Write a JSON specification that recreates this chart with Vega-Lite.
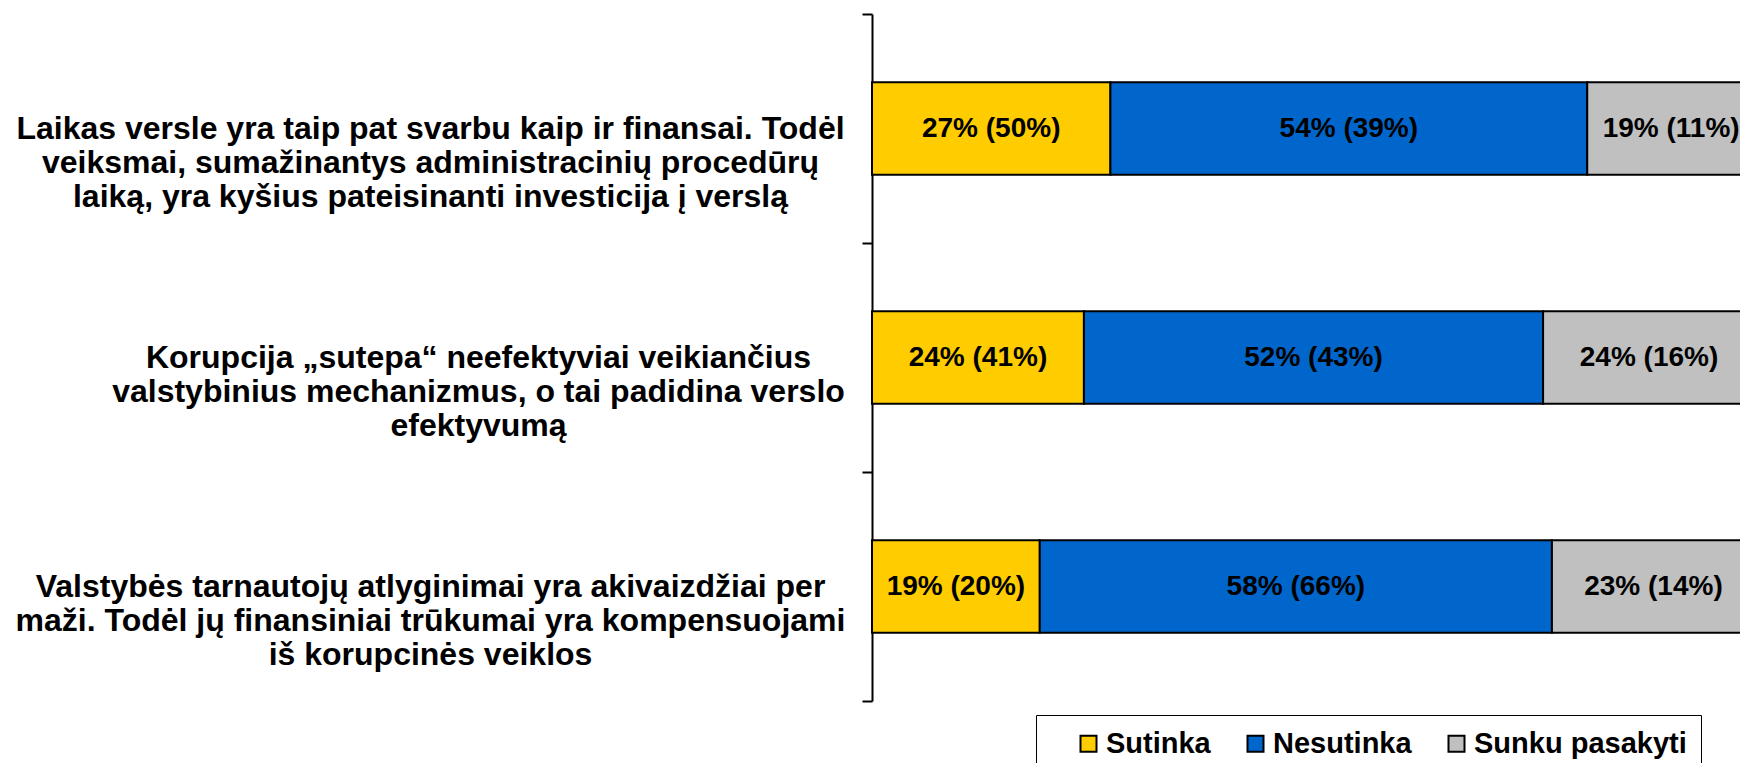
{
  "$schema": "https://vega.github.io/schema/vega-lite/v6.json",
  "width": 868,
  "height": 687,
  "autosize": {"type": "none"},
  "padding": {"left": 872, "top": 14, "right": 0, "bottom": 62},
  "background": "white",
  "config": {"view": {"stroke": null}, "font": "Liberation Sans"},
  "data": {
    "values": [
      {"q": "Laikas versle yra taip pat svarbu kaip ir finansai. Todėl|veiksmai, sumažinantys administracinių procedūrų|laiką, yra kyšius pateisinanti investicija į verslą", "qn": 1, "cat": "Sutinka", "order": 1, "value": 27, "lbl": "27% (50%)"},
      {"q": "Laikas versle yra taip pat svarbu kaip ir finansai. Todėl|veiksmai, sumažinantys administracinių procedūrų|laiką, yra kyšius pateisinanti investicija į verslą", "qn": 1, "cat": "Nesutinka", "order": 2, "value": 54, "lbl": "54% (39%)"},
      {"q": "Laikas versle yra taip pat svarbu kaip ir finansai. Todėl|veiksmai, sumažinantys administracinių procedūrų|laiką, yra kyšius pateisinanti investicija į verslą", "qn": 1, "cat": "Sunku pasakyti", "order": 3, "value": 19, "lbl": "19% (11%)"},
      {"q": "Korupcija „sutepa“ neefektyviai veikiančius|valstybinius mechanizmus, o tai padidina verslo|efektyvumą", "qn": 2, "cat": "Sutinka", "order": 1, "value": 24, "lbl": "24% (41%)"},
      {"q": "Korupcija „sutepa“ neefektyviai veikiančius|valstybinius mechanizmus, o tai padidina verslo|efektyvumą", "qn": 2, "cat": "Nesutinka", "order": 2, "value": 52, "lbl": "52% (43%)"},
      {"q": "Korupcija „sutepa“ neefektyviai veikiančius|valstybinius mechanizmus, o tai padidina verslo|efektyvumą", "qn": 2, "cat": "Sunku pasakyti", "order": 3, "value": 24, "lbl": "24% (16%)"},
      {"q": "Valstybės tarnautojų atlyginimai yra akivaizdžiai per|maži. Todėl jų finansiniai trūkumai yra kompensuojami|iš korupcinės veiklos", "qn": 3, "cat": "Sutinka", "order": 1, "value": 19, "lbl": "19% (20%)"},
      {"q": "Valstybės tarnautojų atlyginimai yra akivaizdžiai per|maži. Todėl jų finansiniai trūkumai yra kompensuojami|iš korupcinės veiklos", "qn": 3, "cat": "Nesutinka", "order": 2, "value": 58, "lbl": "58% (66%)"},
      {"q": "Valstybės tarnautojų atlyginimai yra akivaizdžiai per|maži. Todėl jų finansiniai trūkumai yra kompensuojami|iš korupcinės veiklos", "qn": 3, "cat": "Sunku pasakyti", "order": 3, "value": 23, "lbl": "23% (14%)"}
    ]
  },
  "transform": [
    {"stack": "value", "groupby": ["q"], "sort": [{"field": "order", "order": "ascending"}], "as": ["x0", "x1"]},
    {"calculate": "(datum.x0 + datum.x1) / 2", "as": "xm"}
  ],
  "resolve": {"axis": {"y": "independent"}},
  "layer": [
    {
      "mark": {"type": "bar", "stroke": "black", "strokeWidth": 2, "height": {"band": 0.405}},
      "encoding": {
        "y": {
          "field": "q",
          "type": "nominal",
          "sort": {"field": "qn", "op": "min", "order": "ascending"},
          "scale": {"paddingInner": 0, "paddingOuter": 0},
          "title": null,
          "axis": {
            "orient": "left",
            "labelExpr": "slice(datum.label, 0, 3) == 'Kor' ? '' : split(datum.label, '|')",
            "labelAlign": "center",
            "labelBaseline": "middle",
            "labelFont": "Liberation Sans",
            "labelFontSize": 32,
            "labelFontWeight": "bold",
            "labelColor": "black",
            "labelLineHeight": 34,
            "labelLimit": 2000,
            "labelOverlap": false,
            "labelPadding": 432,
            "tickBand": "extent",
            "tickSize": 10,
            "tickWidth": 2,
            "tickColor": "black",
            "domainColor": "black",
            "domainWidth": 2,
            "grid": false
          }
        },
        "x": {"field": "x0", "type": "quantitative", "scale": {"domain": [0, 98.3], "nice": false, "zero": true}, "axis": null},
        "x2": {"field": "x1"},
        "color": {
          "field": "cat",
          "type": "nominal",
          "scale": {"domain": ["Sutinka", "Nesutinka", "Sunku pasakyti"], "range": ["#FFCC00", "#0066CC", "#C0C0C0"]},
          "legend": {
            "title": null,
            "orient": "none",
            "legendX": 164,
            "legendY": 701,
            "direction": "horizontal",
            "symbolType": "square",
            "symbolSize": 256,
            "symbolStrokeColor": "black",
            "symbolStrokeWidth": 2,
            "symbolOpacity": 1,
            "labelFont": "Liberation Sans",
            "labelFontSize": 29,
            "labelFontWeight": "bold",
            "labelColor": "black",
            "labelOffset": 3,
            "labelLimit": 400,
            "columnPadding": 6,
            "padding": 14,
            "symbolOffset": 24,
            "strokeColor": "black"
          }
        }
      }
    },
    {
      "mark": {"type": "text", "fontSize": 28, "fontWeight": "bold", "color": "black", "font": "Liberation Sans", "baseline": "middle", "align": "center"},
      "encoding": {
        "y": {
          "field": "q",
          "type": "nominal",
          "sort": {"field": "qn", "op": "min", "order": "ascending"},
          "title": null,
          "axis": {
            "orient": "left",
            "labelExpr": "slice(datum.label, 0, 3) == 'Kor' ? split(datum.label, '|') : ''",
            "labelAlign": "center",
            "labelBaseline": "middle",
            "labelFont": "Liberation Sans",
            "labelFontSize": 32,
            "labelFontWeight": "bold",
            "labelColor": "black",
            "labelLineHeight": 34,
            "labelLimit": 2000,
            "labelOverlap": false,
            "labelPadding": 384,
            "tickBand": "extent",
            "tickSize": 10,
            "tickOpacity": 0,
            "domain": false,
            "grid": false
          }
        },
        "x": {"field": "xm", "type": "quantitative"},
        "text": {"field": "lbl"}
      }
    }
  ]
}
